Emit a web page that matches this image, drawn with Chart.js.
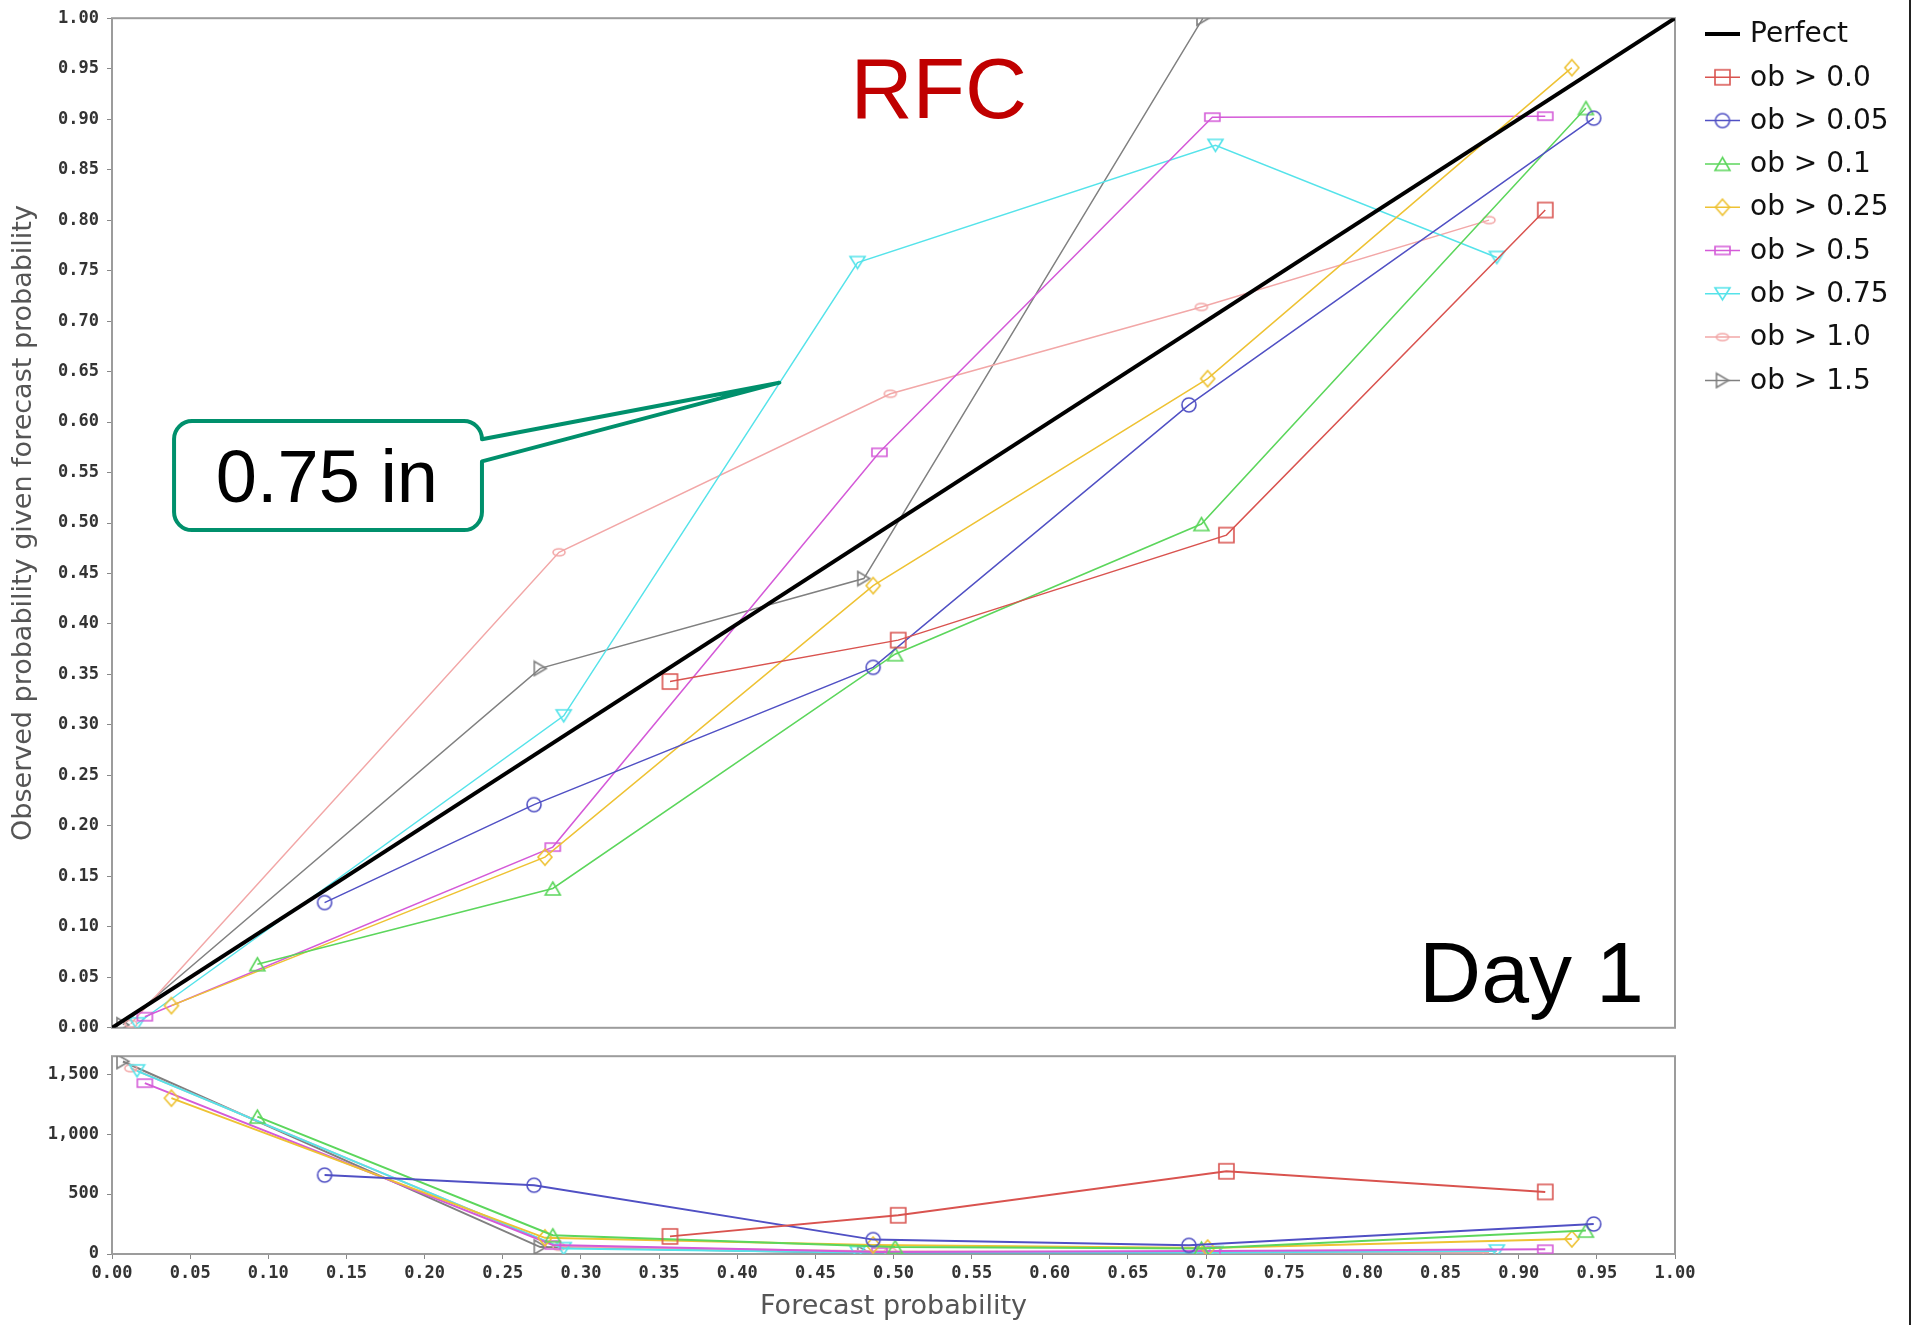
<!DOCTYPE html>
<html>
<head>
<meta charset="utf-8">
<title>Reliability diagram - Day 1</title>
<script src="https://cdn.jsdelivr.net/npm/chart.js@4.4.0/dist/chart.umd.min.js"></script>
<style>
  html, body { margin: 0; padding: 0; background: #fff; }
  body { width: 1912px; height: 1325px; position: relative; overflow: hidden; }
  #top { position: absolute; left: 0; top: 0; width: 1912px; height: 1046px; }
  #bottom { position: absolute; left: 0; top: 1038px; width: 1912px; height: 287px; }
  #edge { position: absolute; left: 1909px; top: 0; width: 2px; height: 1325px; background: #222; }
</style>
</head>
<body>
<div id="top"><canvas id="reliability"></canvas></div>
<div id="bottom"><canvas id="sharpness"></canvas></div>
<div id="edge"></div>
<script>
// thresholds (inches)
const seriesLabels = ['ob > 0.0', 'ob > 0.05', 'ob > 0.1', 'ob > 0.25', 'ob > 0.5', 'ob > 0.75', 'ob > 1.0', 'ob > 1.5'];

// forecast probability (bin mean), observed frequency, sample count
const fc00  = [0.357, 0.503, 0.713, 0.917];
const obs00 = [0.343, 0.384, 0.488, 0.810];
const n00   = [147, 323, 690, 518];

const fc005  = [0.136, 0.270, 0.487, 0.689, 0.948];
const obs005 = [0.124, 0.221, 0.357, 0.617, 0.901];
const n005   = [658, 574, 120, 72, 250];

const fc01  = [0.093, 0.282, 0.501, 0.697, 0.943];
const obs01 = [0.063, 0.138, 0.370, 0.499, 0.911];
const n01   = [1146, 156, 58, 45, 195];

const fc025  = [0.038, 0.277, 0.487, 0.701, 0.934];
const obs025 = [0.022, 0.169, 0.438, 0.643, 0.951];
const n025   = [1300, 135, 75, 50, 126];

const fc05  = [0.021, 0.282, 0.491, 0.704, 0.917];
const obs05 = [0.011, 0.179, 0.570, 0.902, 0.903];
const n05   = [1425, 75, 16, 25, 40];

const fc075  = [0.016, 0.289, 0.477, 0.706, 0.886];
const obs075 = [0.004, 0.309, 0.758, 0.874, 0.763];
const n075   = [1528, 45, 12, 12, 25];

const fc10  = [0.012, 0.286, 0.498, 0.697, 0.881];
const obs10 = [0.004, 0.471, 0.628, 0.714, 0.800];
const n10   = [1550, 60, 20, 15, 12];

const fc15  = [0.007, 0.274, 0.481, 0.698];
const obs15 = [0.003, 0.356, 0.445, 1.000];
const n15   = [1606, 58, 8, 4];

const perfectX = [0, 1];
const perfectY = [0, 1];

const countTicks = [0, 500, 1000, 1500];
const countMax = 1650;

const forecasts = [fc00, fc005, fc01, fc025, fc05, fc075, fc10, fc15];
const observed  = [obs00, obs005, obs01, obs025, obs05, obs075, obs10, obs15];
const counts    = [n00, n005, n01, n025, n05, n075, n10, n15];

const colors = ['#d9534f', '#5050c4', '#5cd65c', '#eec233', '#d45ad8', '#55e3ea', '#f2a7a7', '#808080'];
const shapes = ['square', 'circle', 'up', 'diamond', 'bar', 'down', 'dot', 'right'];

const PLOT_LEFT = 112;
const RIGHT_PAD = 237;
const TICK_FONT = { family: 'DejaVu Sans Mono', size: 17, weight: 'bold' };
const TITLE_FONT = { family: 'DejaVu Sans', size: 27 };

// hollow marker glyphs
function marker(shape, color) {
  const sizes = { square: [15, 15], circle: [14, 14], up: [15, 13], diamond: [14, 16],
                  bar: [15, 8], down: [15, 12], dot: [12, 7], right: [12, 14] };
  const [w, h] = sizes[shape];
  const c = document.createElement('canvas');
  c.width = w + 4; c.height = h + 4;
  const g = c.getContext('2d');
  const cx = c.width / 2, cy = c.height / 2;
  g.strokeStyle = color;
  g.lineWidth = 1.6;
  g.beginPath();
  if (shape === 'square' || shape === 'bar') {
    g.rect(cx - w / 2, cy - h / 2, w, h);
  } else if (shape === 'circle' || shape === 'dot') {
    g.ellipse(cx, cy, w / 2, h / 2, 0, 0, Math.PI * 2);
  } else if (shape === 'up') {
    g.moveTo(cx, cy - h / 2); g.lineTo(cx + w / 2, cy + h / 2); g.lineTo(cx - w / 2, cy + h / 2); g.closePath();
  } else if (shape === 'down') {
    g.moveTo(cx - w / 2, cy - h / 2); g.lineTo(cx + w / 2, cy - h / 2); g.lineTo(cx, cy + h / 2); g.closePath();
  } else if (shape === 'right') {
    g.moveTo(cx - w / 2, cy - h / 2); g.lineTo(cx + w / 2, cy); g.lineTo(cx - w / 2, cy + h / 2); g.closePath();
  } else if (shape === 'diamond') {
    g.moveTo(cx, cy - h / 2); g.lineTo(cx + w / 2, cy); g.lineTo(cx, cy + h / 2); g.lineTo(cx - w / 2, cy); g.closePath();
  }
  g.stroke();
  return c;
}

const markers = shapes.map((s, i) => marker(s, colors[i]));

function pts(xs, ys) {
  return xs.map((x, i) => ({ x: x, y: ys[i] }));
}

function seriesDataset(i, ys, width) {
  return {
    label: seriesLabels[i],
    data: pts(forecasts[i], ys),
    borderColor: colors[i],
    borderWidth: width,
    pointStyle: markers[i],
    pointRadius: 6,
    tension: 0
  };
}

const frame = {
  id: 'frame',
  beforeDatasetsDraw(chart) {
    const a = chart.chartArea, ctx = chart.ctx;
    ctx.save();
    ctx.strokeStyle = '#9c9c9c';
    ctx.lineWidth = 2;
    ctx.strokeRect(a.left, a.top, a.right - a.left, a.bottom - a.top);
    ctx.restore();
  }
};

// labels and the "0.75 in" callout, placed in data units
const RFC_AT = [0.529, 0.901];
const DAY_AT = [0.980, 0.026];
const BOX_X = [0.0397, 0.2367];
const BOX_Y = [0.601, 0.493];
const WEDGE_Y = [0.583, 0.561];
const TIP = [0.427, 0.639];
const BOX_TEXT_AT = [0.1375, 0.521];

const notes = {
  id: 'notes',
  afterDatasetsDraw(chart) {
    const ctx = chart.ctx, xs = chart.scales.x, ys = chart.scales.y;
    const px = v => xs.getPixelForValue(v), py = v => ys.getPixelForValue(v);
    ctx.save();
    ctx.textBaseline = 'alphabetic';

    ctx.font = '86px "Liberation Sans", Arial, sans-serif';
    ctx.fillStyle = '#c00000';
    ctx.textAlign = 'center';
    ctx.fillText('RFC', px(RFC_AT[0]), py(RFC_AT[1]));

    ctx.fillStyle = '#000';
    ctx.textAlign = 'right';
    ctx.fillText('Day 1', px(DAY_AT[0]), py(DAY_AT[1]));

    const L = px(BOX_X[0]), R = px(BOX_X[1]), T = py(BOX_Y[0]), B = py(BOX_Y[1]);
    const r = 18;
    ctx.beginPath();
    ctx.moveTo(L + r, T);
    ctx.lineTo(R - r, T);
    ctx.arcTo(R, T, R, T + r, r);
    ctx.lineTo(R, py(WEDGE_Y[0]));
    ctx.lineTo(px(TIP[0]), py(TIP[1]));
    ctx.lineTo(R, py(WEDGE_Y[1]));
    ctx.lineTo(R, B - r);
    ctx.arcTo(R, B, R - r, B, r);
    ctx.lineTo(L + r, B);
    ctx.arcTo(L, B, L, B - r, r);
    ctx.lineTo(L, T + r);
    ctx.arcTo(L, T, L + r, T, r);
    ctx.closePath();
    ctx.fillStyle = '#fff';
    ctx.fill();
    ctx.strokeStyle = '#00906c';
    ctx.lineWidth = 4;
    ctx.lineJoin = 'round';
    ctx.stroke();

    ctx.fillStyle = '#000';
    ctx.textAlign = 'center';
    ctx.font = '74px "Liberation Sans", Arial, sans-serif';
    ctx.fillText('0.75 in', px(BOX_TEXT_AT[0]), py(BOX_TEXT_AT[1]));
    ctx.restore();
  }
};

const legendBox = {
  id: 'legendBox',
  afterDraw(chart) {
    const ctx = chart.ctx;
    const x0 = chart.chartArea.right + 30, x1 = x0 + 35, tx = x0 + 45;
    const rowTop = 34, rowStep = 43.3;
    ctx.save();
    ctx.font = '28px "DejaVu Sans"';
    ctx.textBaseline = 'middle';
    ctx.textAlign = 'left';
    ctx.lineCap = 'butt';
    const rows = [{ label: 'Perfect', color: '#000', width: 4, img: null }].concat(
      seriesLabels.map((l, i) => ({ label: l, color: colors[i], width: 1.5, img: markers[i] })));
    rows.forEach((row, k) => {
      const y = rowTop + k * rowStep;
      ctx.strokeStyle = row.color;
      ctx.lineWidth = row.width;
      ctx.beginPath();
      ctx.moveTo(x0, y);
      ctx.lineTo(x1, y);
      ctx.stroke();
      if (row.img) {
        ctx.drawImage(row.img, (x0 + x1) / 2 - row.img.width / 2, y - row.img.height / 2);
      }
      ctx.fillStyle = '#111';
      ctx.fillText(row.label, tx, y + 1);
    });
    ctx.restore();
  }
};

const axisTicks = { drawOnChartArea: false, drawTicks: true, tickLength: 5, color: '#888' };

new Chart(document.getElementById('reliability'), {
  type: 'line',
  data: {
    datasets: [{
      label: 'Perfect',
      data: pts(perfectX, perfectY),
      borderColor: '#000',
      borderWidth: 4,
      pointRadius: 0
    }].concat(observed.map((ys, i) => seriesDataset(i, ys, 1.5)))
  },
  options: {
    responsive: true,
    maintainAspectRatio: false,
    animation: false,
    events: [],
    layout: { padding: { top: 18, right: RIGHT_PAD, bottom: 0, left: 0 } },
    plugins: { legend: { display: false }, tooltip: { enabled: false } },
    scales: {
      x: { type: 'linear', min: 0, max: 1, display: false },
      y: {
        type: 'linear', min: 0, max: 1,
        afterFit: s => { s.width = PLOT_LEFT; },
        border: { display: false },
        grid: axisTicks,
        ticks: {
          stepSize: 0.05, autoSkip: false, padding: 8, color: '#333', font: TICK_FONT,
          callback: v => v.toFixed(2)
        },
        title: {
          display: true, text: 'Observed probability given forecast probability',
          color: '#555', font: TITLE_FONT, padding: { top: 8, bottom: 0 }
        }
      }
    }
  },
  plugins: [frame, notes, legendBox]
});

new Chart(document.getElementById('sharpness'), {
  type: 'line',
  data: { datasets: counts.map((ys, i) => seriesDataset(i, ys, 2)) },
  options: {
    responsive: true,
    maintainAspectRatio: false,
    animation: false,
    events: [],
    layout: { padding: { top: 16, right: RIGHT_PAD, bottom: 0, left: 0 } },
    plugins: { legend: { display: false }, tooltip: { enabled: false } },
    scales: {
      x: {
        type: 'linear', min: 0, max: 1,
        afterFit: s => { s.height = 71; },
        border: { display: false },
        grid: axisTicks,
        ticks: {
          stepSize: 0.05, autoSkip: false, maxRotation: 0, padding: 4, color: '#333', font: TICK_FONT,
          callback: v => v.toFixed(2)
        },
        title: {
          display: true, text: 'Forecast probability',
          color: '#555', font: TITLE_FONT, padding: { top: 0, bottom: 2 }
        }
      },
      y: {
        type: 'linear', min: 0, max: countMax,
        afterFit: s => { s.width = PLOT_LEFT; },
        afterBuildTicks: s => { s.ticks = countTicks.map(v => ({ value: v })); },
        border: { display: false },
        grid: axisTicks,
        ticks: {
          autoSkip: false, padding: 8, color: '#333', font: TICK_FONT,
          callback: v => v.toLocaleString('en-US')
        }
      }
    }
  },
  plugins: [frame]
});
</script>
</body>
</html>
